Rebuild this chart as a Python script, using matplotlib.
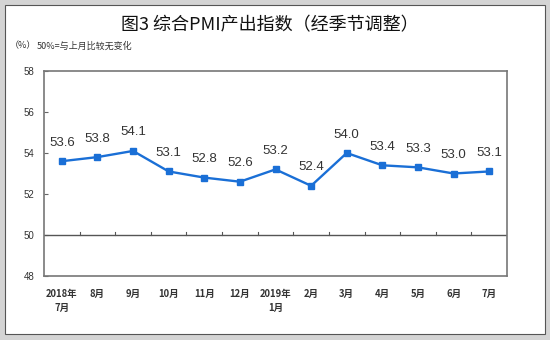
import matplotlib
matplotlib.use("Agg")
import matplotlib.pyplot as plt
from matplotlib.patches import Rectangle

plt.rcParams["font.family"] = ["Noto Sans CJK SC", "DejaVu Sans"]

months = ["2018年\n7月", "8月", "9月", "10月", "11月", "12月", "2019年\n1月",
          "2月", "3月", "4月", "5月", "6月", "7月"]
pmi = [53.6, 53.8, 54.1, 53.1, 52.8, 52.6, 53.2, 52.4, 54.0, 53.4, 53.3, 53.0, 53.1]
y_ticks = [48, 50, 52, 54, 56, 58]

W, H = 550, 340
fig = plt.figure(figsize=(W / 100, H / 100), dpi=100)
fig.patch.set_facecolor("#d4d4d4")

# white panel with dark edge, drawn behind the chart
bg = fig.add_axes([0, 0, 1, 1], zorder=-1)
bg.set_axis_off()
bg.add_patch(Rectangle((5 / W, 6 / H), 540 / W, 329 / H, transform=bg.transAxes,
                       facecolor="white", edgecolor="#555555", linewidth=0.8))

ax = fig.add_axes([44 / W, 1 - 276 / H, 463 / W, 205 / H])
ax.set_facecolor("white")

x = list(range(len(pmi)))
ax.plot(x, pmi, color="#1a6fd6", linewidth=1.7, marker="s", markersize=4.5,
        markerfacecolor="#1a6fd6", markeredgecolor="#1a6fd6", zorder=3)

for xi, v in zip(x, pmi):
    ax.annotate(f"{v:.1f}", (xi, v), xytext=(0, 9), textcoords="offset points",
                ha="center", va="bottom", fontsize=9.5, color="#333333",
                family="Liberation Sans")

ax.set_xlim(-0.5, len(pmi) - 0.5)
ax.set_ylim(48, 58)
ax.set_yticks(y_ticks)
ax.set_yticklabels([str(t) for t in y_ticks], fontsize=7, color="#333333",
                   family="Liberation Sans")
ax.tick_params(axis="y", direction="in", length=3, color="#666666", pad=7)
ax.set_xticks([])

for s in ax.spines.values():
    s.set_color("#777777")
    s.set_linewidth(1.2)

# 50 baseline with category boundary ticks
ax.axhline(50, color="#555555", linewidth=1, zorder=2)
for b in range(1, len(pmi)):
    ax.plot([b - 0.5, b - 0.5], [50, 50.15], color="#555555", linewidth=0.8, zorder=2)

for xi, lab in zip(x, months):
    ax.text(xi, 47.35, lab, ha="center", va="top", fontsize=6.8, color="#333333",
            fontweight="bold", linespacing=1.5)

fig.text(270 / W, 1 - 25 / H, "图3 综合PMI产出指数（经季节调整）", ha="center",
         va="center", fontsize=13, color="#111111", fontweight="medium")
fig.text(10 / W, 1 - 46 / H, "（%）", ha="left", va="center", fontsize=6.5, color="#333333")
fig.text(37 / W, 1 - 46 / H, "50%=与上月比较无变化", ha="left", va="center",
         fontsize=6.5, color="#333333")

fig.savefig("out.png", dpi=100, facecolor=fig.get_facecolor())
